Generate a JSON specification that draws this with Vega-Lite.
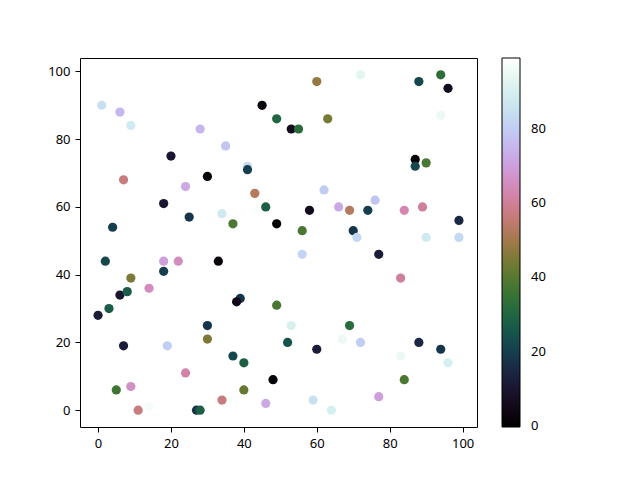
{
  "$schema": "https://vega.github.io/schema/vega-lite/v6.json",
  "width": 397,
  "height": 369,
  "autosize": {"type": "none"},
  "padding": {"left": 80, "top": 58, "right": 163, "bottom": 53},
  "background": "white",
  "config": {
    "view": {"stroke": "black", "strokeWidth": 1},
    "axis": {
      "grid": false,
      "domain": false,
      "tickColor": "black",
      "tickSize": 5,
      "tickWidth": 1,
      "labelFont": "Noto Sans",
      "labelFontSize": 13,
      "labelColor": "black",
      "labelPadding": 5,
      "title": null
    }
  },
  "data": {
    "values": [
      {"x":1,"y":90,"c":85},{"x":6,"y":88,"c":75},{"x":9,"y":84,"c":88},{"x":45,"y":90,"c":3},
      {"x":49,"y":86,"c":30},{"x":28,"y":83,"c":75},{"x":35,"y":78,"c":78},{"x":20,"y":75,"c":10},
      {"x":41,"y":72,"c":83},{"x":41,"y":71,"c":20},{"x":7,"y":68,"c":57},{"x":30,"y":69,"c":3},
      {"x":24,"y":66,"c":72},{"x":43,"y":65,"c":97},{"x":43,"y":64,"c":53},{"x":46,"y":60,"c":28},
      {"x":43,"y":59,"c":98},{"x":18,"y":61,"c":10},{"x":25,"y":57,"c":18},{"x":34,"y":58,"c":88},
      {"x":37,"y":55,"c":38},{"x":4,"y":54,"c":20},{"x":49,"y":55,"c":1},{"x":60,"y":97,"c":48},
      {"x":72,"y":99,"c":93},{"x":88,"y":97,"c":22},{"x":94,"y":99,"c":33},{"x":96,"y":95,"c":6},
      {"x":53,"y":83,"c":6},{"x":55,"y":83,"c":32},{"x":63,"y":86,"c":44},{"x":94,"y":87,"c":95},
      {"x":87,"y":74,"c":2},{"x":87,"y":72,"c":22},{"x":90,"y":73,"c":38},{"x":62,"y":65,"c":80},
      {"x":58,"y":59,"c":6},{"x":66,"y":60,"c":72},{"x":69,"y":59,"c":53},{"x":74,"y":59,"c":20},
      {"x":76,"y":62,"c":78},{"x":84,"y":59,"c":63},{"x":89,"y":60,"c":60},{"x":56,"y":53,"c":38},
      {"x":63,"y":53,"c":99},{"x":70,"y":53,"c":18},{"x":71,"y":51,"c":83},{"x":90,"y":51,"c":88},
      {"x":99,"y":56,"c":15},{"x":99,"y":51,"c":83},{"x":2,"y":44,"c":22},{"x":18,"y":44,"c":70},
      {"x":22,"y":44,"c":65},{"x":33,"y":44,"c":2},{"x":18,"y":41,"c":20},{"x":9,"y":39,"c":45},
      {"x":14,"y":36,"c":65},{"x":6,"y":34,"c":10},{"x":8,"y":35,"c":27},{"x":39,"y":33,"c":18},
      {"x":38,"y":32,"c":5},{"x":49,"y":31,"c":38},{"x":3,"y":30,"c":27},{"x":0,"y":28,"c":12},
      {"x":30,"y":25,"c":18},{"x":30,"y":21,"c":45},{"x":7,"y":19,"c":12},{"x":19,"y":19,"c":80},
      {"x":37,"y":16,"c":22},{"x":40,"y":14,"c":28},{"x":24,"y":11,"c":62},{"x":48,"y":9,"c":1},
      {"x":5,"y":6,"c":36},{"x":9,"y":7,"c":66},{"x":40,"y":6,"c":42},{"x":34,"y":3,"c":57},
      {"x":46,"y":2,"c":72},{"x":11,"y":0,"c":57},{"x":14,"y":1,"c":97},{"x":27,"y":0,"c":17},
      {"x":28,"y":0,"c":28},{"x":56,"y":46,"c":82},{"x":77,"y":46,"c":12},{"x":83,"y":39,"c":60},
      {"x":53,"y":25,"c":90},{"x":69,"y":25,"c":32},{"x":67,"y":21,"c":95},{"x":72,"y":20,"c":80},
      {"x":52,"y":20,"c":25},{"x":60,"y":18,"c":12},{"x":88,"y":20,"c":15},{"x":94,"y":18,"c":18},
      {"x":83,"y":16,"c":95},{"x":96,"y":14,"c":90},{"x":84,"y":9,"c":38},{"x":77,"y":4,"c":70},
      {"x":59,"y":3,"c":85},{"x":64,"y":0,"c":90}
    ]
  },
  "mark": {"type": "circle", "size": 85, "opacity": 1, "strokeWidth": 0},
  "encoding": {
    "x": {
      "field": "x", "type": "quantitative",
      "scale": {"domain": [-4.95, 103.95], "nice": false, "zero": false},
      "axis": {"values": [0, 20, 40, 60, 80, 100], "format": "d"}
    },
    "y": {
      "field": "y", "type": "quantitative",
      "scale": {"domain": [-4.95, 103.95], "nice": false, "zero": false},
      "axis": {"values": [0, 20, 40, 60, 80, 100], "format": "d"}
    },
    "color": {
      "field": "c", "type": "quantitative",
      "scale": {
        "type": "linear",
        "interpolate": "rgb",
        "domain": [-0.3, 4.95, 9.9, 14.85, 19.8, 24.75, 29.7, 34.65, 39.6, 44.55, 49.5, 54.45, 59.4, 64.35, 69.3, 74.25, 79.2, 84.15, 89.1, 94.05, 99],
        "range": ["#000000", "#120817", "#1a1530", "#1a2744", "#163d4e", "#16534c", "#1f6642", "#347335", "#54792f", "#7a7a35", "#a07949", "#be796a", "#d07e93", "#d48aba", "#cf9cda", "#c7b3ed", "#c1caf3", "#c5def2", "#d2eeef", "#e8f8f2", "#ffffff"]
      },
      "legend": {
        "orient": "none",
        "legendX": 422,
        "legendY": 0,
        "direction": "vertical",
        "title": null,
        "gradientLength": 369,
        "gradientThickness": 18,
        "gradientStrokeColor": "black",
        "gradientStrokeWidth": 1,
        "values": [0, 20, 40, 60, 80],
        "labelFont": "Noto Sans",
        "labelFontSize": 13,
        "labelColor": "black",
        "labelOffset": 11,
        "labelBaseline": "middle",
        "labelOverlap": false,
        "padding": 0
      }
    }
  }
}
